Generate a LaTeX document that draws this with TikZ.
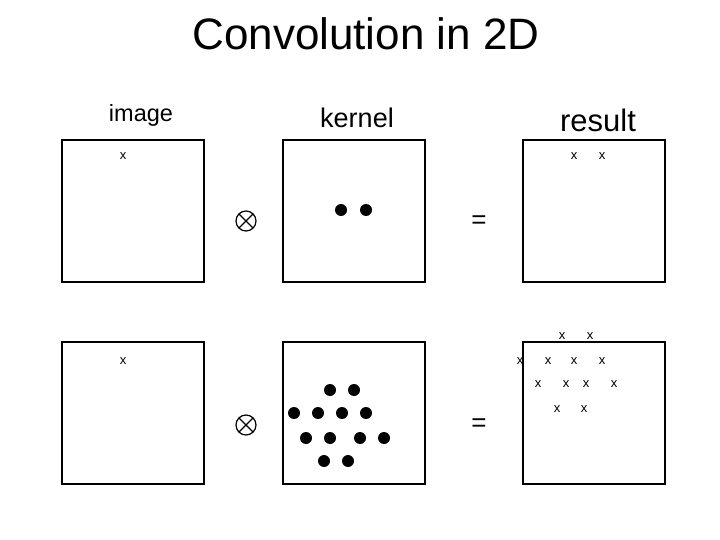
\documentclass[tikz,border=0pt]{standalone}
\usepackage{fontspec}
\setmainfont{Liberation Sans}
\begin{document}
\begin{tikzpicture}[x=1pt,y=-1pt,
  panel/.style={draw=black,line width=1.2pt},
  xmark/.style={inner sep=0pt,font=\fontsize{13}{13}\selectfont},
  kdot/.style={fill=black},
  eqsign/.style={inner sep=0pt,font=\fontsize{26}{26}\selectfont},
  lbl/.style={inner sep=0pt}]
\useasboundingbox (0,0) rectangle (720,540);
% title and labels
\node[lbl,font=\fontsize{44}{44}\selectfont] (title) at (366,34) {Convolution in 2D};
\node[lbl,font=\fontsize{23.5}{24}\selectfont] (limage) at (141,115) {image};
\node[lbl,font=\fontsize{27}{27}\selectfont] (lkernel) at (357,118) {kernel};
\node[lbl,font=\fontsize{31}{31}\selectfont] (lresult) at (598,120) {result};
% panels
\foreach \y/\n in {140/a,342/b}{
  \draw[panel] (62,\y) rectangle (204,\y+142);
  \draw[panel] (283,\y) rectangle (425,\y+142);
  \draw[panel] (523,\y) rectangle (665,\y+142);
}
% otimes
\foreach \y in {221,425}{
  \draw[line width=1.2pt] (246,\y) circle (10);
  \draw[line width=1.2pt] (246,\y) ++(-7.07,-7.07) -- ++(14.14,14.14);
  \draw[line width=1.2pt] (246,\y) ++(-7.07,7.07) -- ++(14.14,-14.14);
}
% equals
\node[eqsign] (eq1) at (479,222) {=};
\node[eqsign] (eq2) at (479,425) {=};
% image x marks
\node[xmark] (ix1) at (123,156) {x};
\node[xmark] (ix2) at (123,361) {x};
% top kernel
\foreach \x/\y in {341/210,366/210}{\fill[kdot] (\x,\y) circle (6);}
% bottom kernel
\foreach \x/\y in {330/390,354/390,294/413,318/413,342/413,366/413,306/438,330/438,360/438,384/438,324/461,348/461}{\fill[kdot] (\x,\y) circle (6);}
% top result
\foreach \x/\y in {574/156,602/156}{\node[xmark] at (\x,\y) {x};}
% bottom result
\foreach \x/\y in {562/336,590/336,520/361,548/361,574/361,602/361,538/384,566/384,586/384,614/384,557/409,584/409}{\node[xmark] at (\x,\y) {x};}
\end{tikzpicture}
\end{document}
